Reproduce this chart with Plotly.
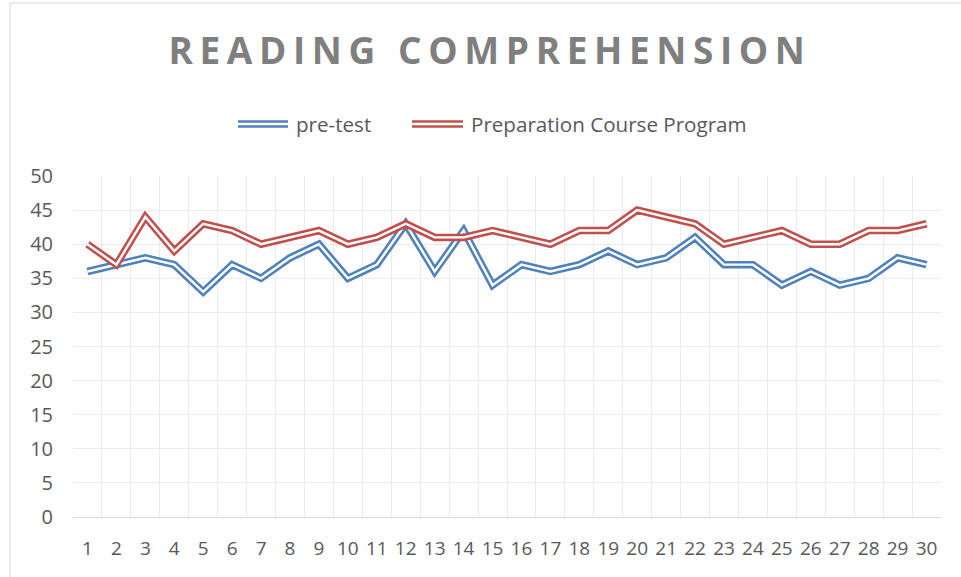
import plotly.graph_objects as go

categories = [str(i) for i in range(1, 31)]
pre_test = [36, 37, 38, 37, 33, 37, 35, 38, 40, 35, 37, 43, 36, 42, 34,
            37, 36, 37, 39, 37, 38, 41, 37, 37, 34, 36, 34, 35, 38, 37]
prep_course = [40, 37, 44, 39, 43, 42, 40, 41, 42, 40, 41, 43, 41, 41, 42,
               41, 40, 42, 42, 45, 44, 43, 40, 41, 42, 40, 40, 42, 42, 43]
y_ticks = list(range(0, 51, 5))
series_names = ["pre-test", "Preparation Course Program"]

BLUE = "#4F81BD"
RED = "#C0504D"
TXT = "#595959"
FONT = "Open Sans"

W, H = 961, 577
ML, MR, MT, MB = 73, 20, 176, 60
PW, PH = W - ML - MR, H - MT - MB


def px_x(px):
    return (px - ML) / PW


def px_y(py):
    return (H - MB - py) / PH


fig = go.Figure()
for name, vals, col in [(series_names[0], pre_test, BLUE),
                        (series_names[1], prep_course, RED)]:
    fig.add_trace(go.Scatter(x=categories, y=vals, mode="lines", name=name,
                             line=dict(color=col, width=7.5), showlegend=False,
                             hoverinfo="skip"))
    fig.add_trace(go.Scatter(x=categories, y=vals, mode="lines", name=name,
                             line=dict(color="white", width=2.4), showlegend=False))

shapes = []
annotations = []
# chart border
shapes.append(dict(type="rect", xref="paper", yref="paper",
                   x0=px_x(10), x1=px_x(975), y0=px_y(590), y1=px_y(3),
                   line=dict(color="#D9D9D9", width=1), layer="below"))
# custom legend with double-line swatches
legend_items = [(series_names[0], BLUE, 238, 288, 294),
                (series_names[1], RED, 412, 463, 469)]
ly = 124
for name, col, sx0, sx1, tx in legend_items:
    shapes.append(dict(type="line", xref="paper", yref="paper",
                       x0=px_x(sx0), x1=px_x(sx1), y0=px_y(ly), y1=px_y(ly),
                       line=dict(color=col, width=7.5)))
    shapes.append(dict(type="line", xref="paper", yref="paper",
                       x0=px_x(sx0), x1=px_x(sx1), y0=px_y(ly), y1=px_y(ly),
                       line=dict(color="white", width=2.4)))
    annotations.append(dict(text=name, xref="paper", yref="paper",
                            x=px_x(tx), y=px_y(ly), xanchor="left", yanchor="middle",
                            showarrow=False, font=dict(family=FONT, size=20.6, color=TXT)))

fig.update_layout(
    width=W, height=H,
    margin=dict(l=ML, r=MR, t=MT, b=MB, autoexpand=False),
    paper_bgcolor="white", plot_bgcolor="white",
    title=dict(text='<span style="letter-spacing:6.6px">READING COMPREHENSION</span>',
               x=490 / W, xanchor="center", y=1 - 51 / H, yanchor="middle",
               yref="container",
               font=dict(family=FONT, size=37, color="#7F7F7F", weight="bold")),
    showlegend=False,
    shapes=shapes,
    annotations=annotations,
    xaxis=dict(type="category", tickson="boundaries", showgrid=True,
               gridcolor="#EBEBEB", gridwidth=1, showline=True, linecolor="#D9D9D9",
               linewidth=1, ticks="", ticklabelstandoff=14, tickangle=0,
               automargin=False,
               tickfont=dict(family=FONT, size=19, color=TXT), zeroline=False,
               range=[-0.5, 29.5]),
    yaxis=dict(range=[0, 50], tickvals=y_ticks, showgrid=True, gridcolor="#EBEBEB",
               gridwidth=1, zeroline=False, showline=False, ticks="",
               ticklabelstandoff=19, automargin=False,
               tickfont=dict(family=FONT, size=20, color=TXT)),
)

fig.write_html("out.html", config={"displayModeBar": False},
               post_script="document.body.style.margin='0';document.body.style.overflow='hidden';")
